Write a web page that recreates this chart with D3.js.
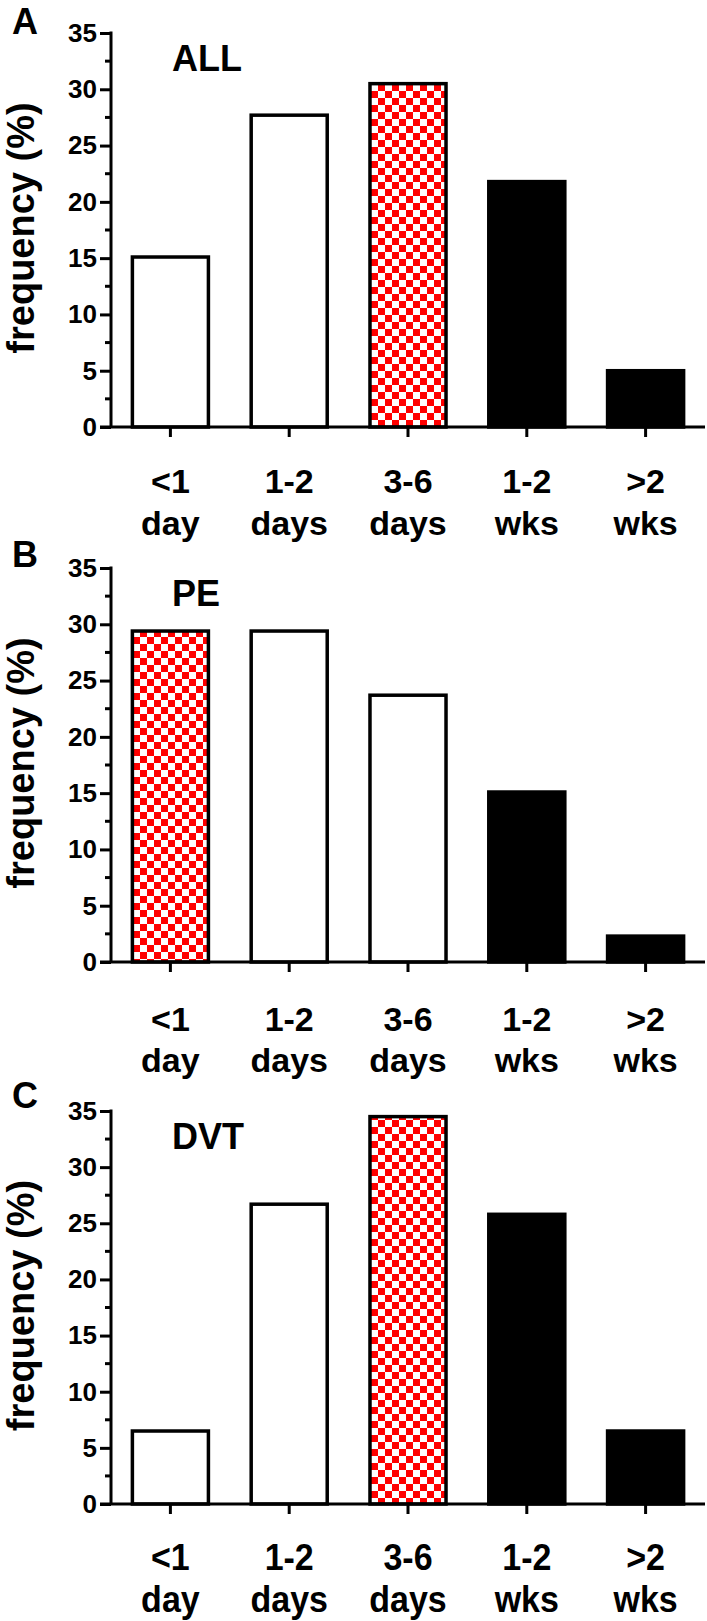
<!DOCTYPE html>
<html>
<head>
<meta charset="utf-8">
<script src="https://cdn.jsdelivr.net/npm/d3@7"></script>
<style>
  html, body { margin: 0; padding: 0; background: #fff; }
  svg { display: block; }
  text { font-family: "Liberation Sans", Arial, sans-serif; font-weight: bold; fill: #000; }
</style>
</head>
<body>
<svg id="chart" width="707" height="1621"></svg>
<script>
// ---- data ----
const categoryLine1 = ["<1", "1-2", "3-6", "1-2", ">2"];
const categoryLine2 = ["day", "days", "days", "wks", "wks"];
const categoryKeys = ["lt1d", "1-2d", "3-6d", "1-2w", "gt2w"];

const panelLetters = ["A", "B", "C"];
const panelTitles = ["ALL", "PE", "DVT"];

const valuesALL = [15.1, 27.7, 30.5, 21.8, 5.0];
const valuesPE  = [29.4, 29.4, 23.7, 15.1, 2.3];
const valuesDVT = [6.5, 26.7, 34.5, 25.8, 6.5];

const fillsALL = ["open", "open", "checker", "solid", "solid"];
const fillsPE  = ["checker", "open", "open", "solid", "solid"];
const fillsDVT = ["open", "open", "checker", "solid", "solid"];

const yTickValues = [0, 5, 10, 15, 20, 25, 30, 35];
const yMinorTicks = [2.5, 7.5, 12.5, 17.5, 22.5, 27.5, 32.5];
const yLabel = "frequency (%)";

// ---- layout ----
const panels = [
  { letter: panelLetters[0], title: panelTitles[0], values: valuesALL, fills: fillsALL, top: 33,   bottom: 427,  letterY: 34,   l1: 66, l2: 108, labelScaleY: 1.0 },
  { letter: panelLetters[1], title: panelTitles[1], values: valuesPE,  fills: fillsPE,  top: 568,  bottom: 962,  letterY: 567,  l1: 69, l2: 110, labelScaleY: 1.0 },
  { letter: panelLetters[2], title: panelTitles[2], values: valuesDVT, fills: fillsDVT, top: 1111, bottom: 1504, letterY: 1108, l1: 66, l2: 108, labelScaleY: 1.1 }
];

const axisX = 111;
const axisRight = 705;
const lineW = 3;

const svg = d3.select("#chart");

const defs = svg.append("defs");
const pat = defs.append("pattern")
  .attr("id", "checker")
  .attr("patternUnits", "userSpaceOnUse")
  .attr("width", 14).attr("height", 14);
pat.append("rect").attr("width", 14).attr("height", 14).attr("fill", "#fff");
pat.append("rect").attr("x", 0).attr("y", 0).attr("width", 7).attr("height", 7).attr("fill", "#ff0000");
pat.append("rect").attr("x", 7).attr("y", 7).attr("width", 7).attr("height", 7).attr("fill", "#ff0000");

const x = d3.scaleBand()
  .domain(categoryKeys)
  .range([axisX, axisRight])
  .paddingInner(0.36)
  .paddingOuter(0.18);

const fillFor = t => t === "checker" ? "url(#checker)" : (t === "solid" ? "#000" : "#fff");

panels.forEach(p => {
  const g = svg.append("g");
  const y = d3.scaleLinear().domain([0, 35]).range([p.bottom, p.top]);

  // bars
  g.selectAll("rect.bar")
    .data(p.values.map((v, i) => ({ key: categoryKeys[i], v, fill: p.fills[i] })))
    .enter().append("rect")
    .attr("class", "bar")
    .attr("x", d => x(d.key))
    .attr("width", x.bandwidth())
    .attr("y", d => y(d.v))
    .attr("height", d => y(0) - y(d.v))
    .attr("fill", d => fillFor(d.fill))
    .attr("stroke", "#000")
    .attr("stroke-width", 3.5)
    .attr("stroke-linejoin", "miter");

  // y axis (major ticks)
  const yAxis = d3.axisLeft(y)
    .tickValues(yTickValues)
    .tickFormat(d3.format("d"))
    .tickSize(11)
    .tickSizeOuter(0)
    .tickPadding(3);
  const ya = g.append("g").attr("transform", `translate(${axisX},0)`).call(yAxis);
  ya.select(".domain").attr("stroke-width", lineW).attr("d", `M0,${p.top - 1.5}V${p.bottom}`);
  ya.selectAll(".tick line").attr("stroke-width", lineW);
  ya.selectAll(".tick text")
    .style("font-size", "26px")
    .style("font-family", "'Liberation Sans', Arial, sans-serif")
    .style("font-weight", "bold");

  // minor ticks
  g.selectAll("line.minor")
    .data(yMinorTicks)
    .enter().append("line")
    .attr("x1", axisX - 6).attr("x2", axisX)
    .attr("y1", d => y(d)).attr("y2", d => y(d))
    .attr("stroke", "#000").attr("stroke-width", lineW);

  // x axis
  const xAxis = d3.axisBottom(x).tickSize(10).tickSizeOuter(0).tickFormat("");
  const xa = g.append("g").attr("transform", `translate(0,${p.bottom})`).call(xAxis);
  xa.select(".domain").attr("stroke-width", lineW).attr("d", `M${axisX - 11},0H${axisRight}`);
  xa.selectAll(".tick line").attr("stroke-width", lineW);

  // category labels (two lines)
  const lab = g.selectAll("g.cat")
    .data(categoryKeys)
    .enter().append("g")
    .attr("class", "cat")
    .attr("transform", d => `translate(${x(d) + x.bandwidth() / 2},${p.bottom}) scale(1,${p.labelScaleY})`);
  lab.append("text")
    .attr("text-anchor", "middle")
    .attr("y", p.l1 / p.labelScaleY)
    .style("font-size", "34px")
    .text((d, i) => categoryLine1[i]);
  lab.append("text")
    .attr("text-anchor", "middle")
    .attr("y", p.l2 / p.labelScaleY)
    .style("font-size", "34px")
    .text((d, i) => categoryLine2[i]);

  // panel title
  g.append("text")
    .attr("x", 172).attr("y", p.top + 38)
    .style("font-size", "36px")
    .text(p.title);

  // panel letter
  g.append("text")
    .attr("x", 12).attr("y", p.letterY)
    .style("font-size", "36px")
    .text(p.letter);

  // y label
  g.append("text")
    .attr("transform", `translate(34,${(p.top + p.bottom) / 2 - 2}) rotate(-90)`)
    .attr("text-anchor", "middle")
    .style("font-size", "38px")
    .text(yLabel);
});
</script>
</body>
</html>
